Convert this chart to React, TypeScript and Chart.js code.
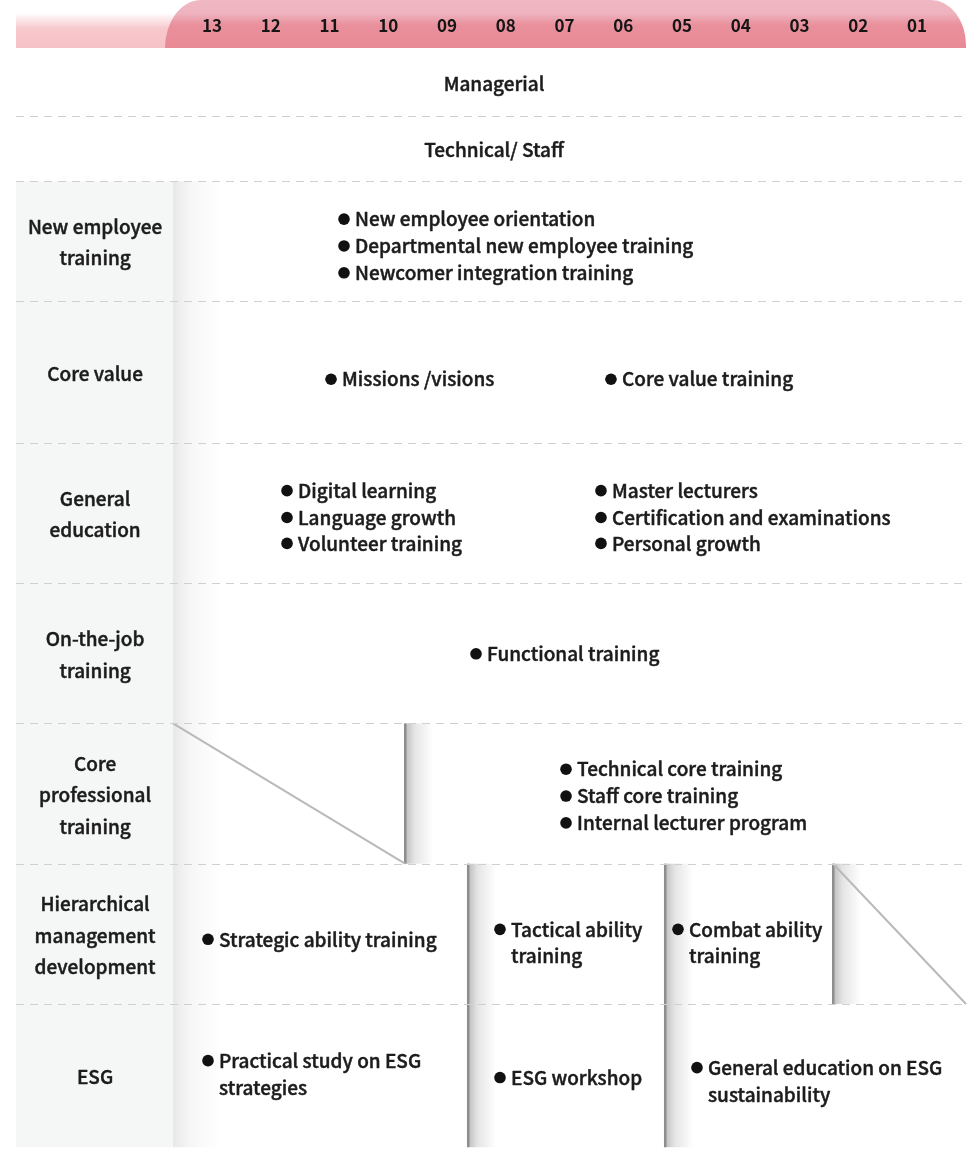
import React, { useEffect, useRef } from 'react';
import { Chart, registerables } from 'chart.js';

Chart.register(...registerables);

// ---------------- DATA ----------------
const GRADES = ['13', '12', '11', '10', '09', '08', '07', '06', '05', '04', '03', '02', '01'];
const TRACKS = ['Managerial', 'Technical/ Staff'];
const CATEGORIES = [
  'New employee\ntraining',
  'Core value',
  'General\neducation',
  'On-the-job\ntraining',
  'Core\nprofessional\ntraining',
  'Hierarchical\nmanagement\ndevelopment',
  'ESG',
];
const NEW_EMPLOYEE_ITEMS = ['New employee orientation', 'Departmental new employee training', 'Newcomer integration training'];
const CORE_VALUE_ITEMS = ['Missions /visions', 'Core value training'];
const GENERAL_EDUCATION_ITEMS = [
  'Digital learning', 'Language growth', 'Volunteer training',
  'Master lecturers', 'Certification and examinations', 'Personal growth',
];
const ON_THE_JOB_ITEMS = ['Functional training'];
const CORE_PROFESSIONAL_ITEMS = ['Technical core training', 'Staff core training', 'Internal lecturer program'];
const HIERARCHICAL_ITEMS = ['Strategic ability training', 'Tactical ability\ntraining', 'Combat ability\ntraining'];
const ESG_ITEMS = ['Practical study on ESG\nstrategies', 'ESG workshop', 'General education on ESG\nsustainability'];

// ---------------- LAYOUT (grade units on x, layout units on y) ----------------
const X_MIN = -3.336;
const X_MAX = 12.834;
const TAB_START = -0.8;
const COL_EDGE = -0.664;
const LABEL_X = -1.99;
const CENTER_X = 4.8;
const ROW_BOUNDS = [0, 68, 134, 254, 397, 538, 679, 820, 961, 1105];
const Y_MAX = 1105;

const NEW_EMPLOYEE_POS = [[2.247, 172], [2.247, 199], [2.247, 226]];
const CORE_VALUE_POS = [[2.026, 333], [6.791, 333]];
const GENERAL_EDUCATION_POS = [
  [1.277, 445], [1.277, 472], [1.277, 498],
  [6.621, 445], [6.621, 472], [6.621, 498],
];
const ON_THE_JOB_POS = [[4.494, 609]];
const CORE_PROFESSIONAL_POS = [[6.026, 725], [6.026, 752], [6.026, 779]];
const HIERARCHICAL_POS = [[-0.068, 896], [4.902, 886], [7.932, 886]];
const ESG_POS = [[-0.068, 1018], [4.902, 1035], [8.255, 1025]];

const DIVIDERS = [
  { x: 3.285, y0: 679, y1: 820 },
  { x: 4.357, y0: 820, y1: 1105 },
  { x: 7.71, y0: 820, y1: 1105 },
  { x: 10.57, y0: 820, y1: 961 },
];
const DIAGONALS = [
  { x0: COL_EDGE, y0: 679, x1: 3.285, y1: 820 },
  { x0: 10.57, y0: 820, x1: X_MAX, y1: 961 },
];

const ITEM_GROUPS = [
  { items: NEW_EMPLOYEE_ITEMS, pos: NEW_EMPLOYEE_POS },
  { items: CORE_VALUE_ITEMS, pos: CORE_VALUE_POS },
  { items: GENERAL_EDUCATION_ITEMS, pos: GENERAL_EDUCATION_POS },
  { items: ON_THE_JOB_ITEMS, pos: ON_THE_JOB_POS },
  { items: CORE_PROFESSIONAL_ITEMS, pos: CORE_PROFESSIONAL_POS },
  { items: HIERARCHICAL_ITEMS, pos: HIERARCHICAL_POS },
  { items: ESG_ITEMS, pos: ESG_POS },
];

// ---------------- STYLE ----------------
const FONT_FAMILY = '"Noto Sans CJK TC", "Noto Sans", sans-serif';
const FONT_SIZE = 19;
const TEXT_COLOR = '#1c1c1c';
const ITEM_LINE = 27;
const LABEL_LINE = 31.5;
const TEXT_GAP = 11;

const drawText = (ctx: any, s: string, x: number, y: number) => {
  ctx.fillText(s, x, y);
  ctx.strokeText(s, x, y);
};

const tablePlugin = {
  id: 'trainingTable',
  beforeDraw(chart: any) {
    const ctx = chart.ctx;
    const xs = chart.scales.x;
    const ys = chart.scales.y;
    const X = (v: number) => xs.getPixelForValue(v);
    const Y = (v: number) => ys.getPixelForValue(v);
    const hTop = xs.top;
    const hBot = xs.bottom;
    ctx.save();

    // left strip of header
    const g1 = ctx.createLinearGradient(0, hTop + 13, 0, hBot);
    g1.addColorStop(0, 'rgba(247,198,203,0)');
    g1.addColorStop(0.45, '#f7c8cc');
    g1.addColorStop(1, '#f6c2c7');
    ctx.fillStyle = g1;
    ctx.fillRect(X(X_MIN), hTop + 13, X(TAB_START) + 20 - X(X_MIN), hBot - hTop - 13);

    // grade tab
    const tl = X(TAB_START);
    const tr = X(X_MAX);
    const g2 = ctx.createLinearGradient(0, hTop, 0, hBot);
    g2.addColorStop(0, '#f0b8c2');
    g2.addColorStop(0.28, '#eeb3be');
    g2.addColorStop(0.52, '#e9909c');
    g2.addColorStop(1, '#e88a96');
    ctx.fillStyle = g2;
    ctx.beginPath();
    ctx.moveTo(tl, hBot);
    ctx.ellipse(tl + 36, hBot, 36, hBot - hTop, 0, Math.PI, Math.PI * 1.5);
    ctx.lineTo(tr - 35, hTop);
    ctx.ellipse(tr - 35, hTop + 45, 35, 45, 0, Math.PI * 1.5, Math.PI * 2);
    ctx.lineTo(tr, hBot);
    ctx.closePath();
    ctx.fill();

    // label column
    ctx.fillStyle = '#f5f6f6';
    ctx.fillRect(X(X_MIN), Y(ROW_BOUNDS[2]), X(COL_EDGE) - X(X_MIN), Y(Y_MAX) - Y(ROW_BOUNDS[2]));
    const cx = X(COL_EDGE);
    const g3 = ctx.createLinearGradient(cx, 0, cx + 48, 0);
    g3.addColorStop(0, 'rgba(0,0,0,0.09)');
    g3.addColorStop(0.35, 'rgba(0,0,0,0.035)');
    g3.addColorStop(1, 'rgba(0,0,0,0)');
    ctx.fillStyle = g3;
    ctx.fillRect(cx, Y(ROW_BOUNDS[2]), 48, Y(Y_MAX) - Y(ROW_BOUNDS[2]));

    // dividers with shadow
    DIVIDERS.forEach((d) => {
      const dx = X(d.x);
      const y0 = Y(d.y0);
      const y1 = Y(d.y1);
      const g = ctx.createLinearGradient(dx, 0, dx + 28, 0);
      g.addColorStop(0, 'rgba(0,0,0,0.26)');
      g.addColorStop(0.35, 'rgba(0,0,0,0.1)');
      g.addColorStop(1, 'rgba(0,0,0,0)');
      ctx.fillStyle = g;
      ctx.fillRect(dx, y0, 28, y1 - y0);
      ctx.fillStyle = '#8d8d8d';
      ctx.fillRect(dx - 1, y0, 2.5, y1 - y0);
    });

    // diagonals
    ctx.strokeStyle = '#b9b9b9';
    ctx.lineWidth = 2;
    DIAGONALS.forEach((d) => {
      ctx.beginPath();
      ctx.moveTo(X(d.x0), Y(d.y0));
      ctx.lineTo(X(d.x1), Y(d.y1));
      ctx.stroke();
    });

    // dashed row separators
    ctx.strokeStyle = '#d0d0d0';
    ctx.lineWidth = 1;
    ctx.setLineDash([8, 6]);
    ROW_BOUNDS.slice(1, ROW_BOUNDS.length - 1).forEach((b) => {
      const y = Math.round(Y(b)) + 0.5;
      ctx.beginPath();
      ctx.moveTo(X(X_MIN), y);
      ctx.lineTo(X(X_MAX), y);
      ctx.stroke();
    });
    ctx.setLineDash([]);
    ctx.restore();
  },
  afterDatasetsDraw(chart: any) {
    const ctx = chart.ctx;
    const xs = chart.scales.x;
    const ys = chart.scales.y;
    const X = (v: number) => xs.getPixelForValue(v);
    const Y = (v: number) => ys.getPixelForValue(v);
    ctx.save();
    ctx.font = `500 ${FONT_SIZE}px ${FONT_FAMILY}`;
    ctx.fillStyle = TEXT_COLOR;
    ctx.strokeStyle = TEXT_COLOR;
    ctx.lineWidth = 0.45;
    ctx.textBaseline = 'middle';

    // tracks
    ctx.textAlign = 'center';
    TRACKS.forEach((t, i) => {
      const yc = (ROW_BOUNDS[i] + ROW_BOUNDS[i + 1]) / 2 + 1.5;
      drawText(ctx, t, X(CENTER_X), Y(yc));
    });

    // category labels
    CATEGORIES.forEach((c, i) => {
      const lines = c.split('\n');
      const yc = (ROW_BOUNDS[i + 2] + ROW_BOUNDS[i + 3]) / 2 + 1.5;
      const start = yc - ((lines.length - 1) * LABEL_LINE) / 2;
      lines.forEach((ln, k) => drawText(ctx, ln, X(LABEL_X), Y(start + k * LABEL_LINE)));
    });

    // items
    ctx.textAlign = 'left';
    ITEM_GROUPS.forEach((g) => {
      g.items.forEach((it, i) => {
        const [px, py] = g.pos[i];
        it.split('\n').forEach((ln, k) => {
          drawText(ctx, ln, X(px) + TEXT_GAP, Y(py + k * ITEM_LINE));
        });
      });
    });
    ctx.restore();
  },
};

export default function App() {
  const ref = useRef<HTMLCanvasElement | null>(null);

  useEffect(() => {
    if (!ref.current) return;
    const bullets = ITEM_GROUPS.flatMap((g) => g.pos.map(([x, y]) => ({ x, y })));
    const chart = new Chart(ref.current, {
      type: 'scatter',
      data: {
        datasets: [
          {
            data: bullets,
            pointRadius: 5.8,
            pointStyle: 'circle',
            backgroundColor: '#111111',
            borderWidth: 0,
          },
        ],
      },
      options: {
        responsive: false,
        animation: false,
        events: [],
        layout: { padding: { left: 16, right: 6, top: 0, bottom: 0 } },
        plugins: { legend: { display: false }, tooltip: { enabled: false } },
        scales: {
          x: {
            type: 'linear',
            position: 'top',
            min: X_MIN,
            max: X_MAX,
            grid: { display: false, drawTicks: false },
            border: { display: false },
            afterBuildTicks: (axis: any) => {
              axis.ticks = GRADES.map((_, i) => ({ value: i }));
            },
            afterFit: (axis: any) => {
              axis.height = 48;
            },
            ticks: {
              autoSkip: false,
              maxRotation: 0,
              padding: 12,
              color: '#151515',
              font: { family: FONT_FAMILY, size: 17, weight: 'bold' },
              callback: (v: any) => GRADES[v] ?? '',
            },
          },
          y: {
            type: 'linear',
            display: false,
            reverse: true,
            min: 0,
            max: Y_MAX,
          },
        },
      },
      plugins: [tablePlugin],
    } as any);
    return () => chart.destroy();
  }, []);

  return (
    <div style={{ position: 'absolute', left: 0, top: 0, width: 972, height: 1153, background: '#fff' }}>
      <canvas ref={ref} width={972} height={1153} style={{ display: 'block', width: 972, height: 1153 }} />
    </div>
  );
}
